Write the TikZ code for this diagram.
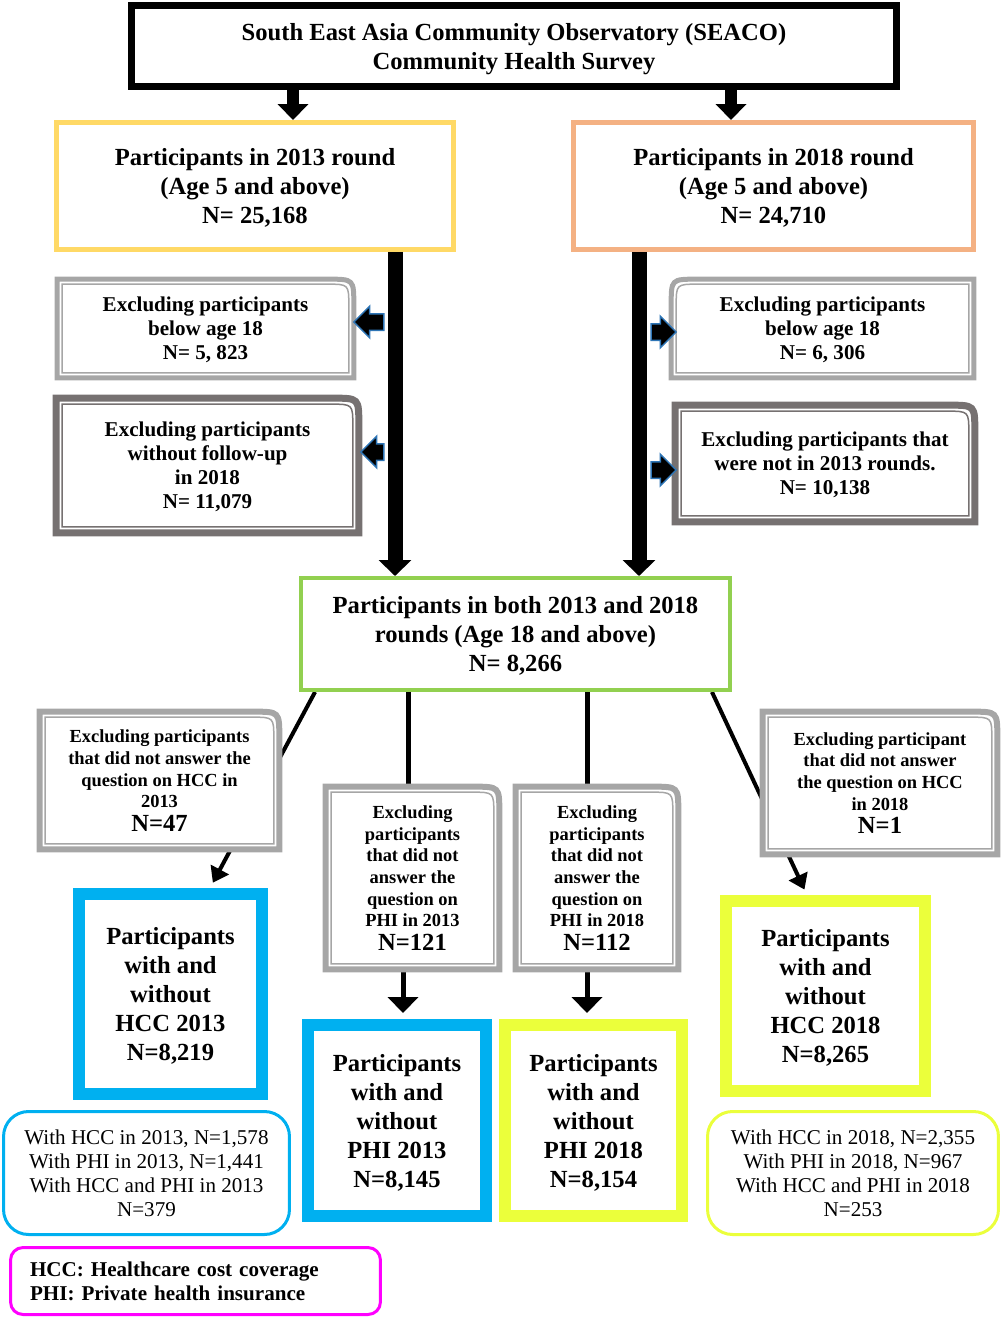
\documentclass[tikz,border=0pt]{standalone}
\usepackage{fontspec}
\setmainfont{Liberation Serif}
\usetikzlibrary{shapes.arrows,arrows.meta,calc,backgrounds}

\definecolor{boxgold}{HTML}{FFD966}
\definecolor{boxorange}{HTML}{F4B183}
\definecolor{lightgrey}{HTML}{A6A6A6}
\definecolor{darkgrey}{HTML}{767171}
\definecolor{boxgreen}{HTML}{92D050}
\definecolor{boxcyan}{HTML}{00B0F0}
\definecolor{boxlime}{HTML}{EBFF3B}
\definecolor{boxpink}{HTML}{FF00FF}
\definecolor{arrowblue}{HTML}{2E75B6}

\newcommand{\nbig}{\fontsize{14}{16}\selectfont}

% double frame, top right corner rounded
\newcommand{\exframeR}[3]{%
  \pgfmathsetmacro{\dA}{#3/2}%
  \pgfmathsetmacro{\dB}{#3+2.5}%
  \draw[#2, line width=#3*0.02cm]
    ($(#1.south west)+(\dA,-\dA)$) -- ($(#1.north west)+(\dA,\dA)$)
    -- ($(#1.north east)+(-\dA-26,\dA)$) .. controls ($(#1.north east)+(-\dA,\dA)$)
    .. ($(#1.north east)+(-\dA,\dA+26)$) -- ($(#1.south east)+(-\dA,-\dA)$) -- cycle;
  \draw[#2, line width=0.03cm]
    ($(#1.south west)+(\dB,-\dB)$) -- ($(#1.north west)+(\dB,\dB)$)
    -- ($(#1.north east)+(-\dB-22,\dB)$) .. controls ($(#1.north east)+(-\dB,\dB)$)
    .. ($(#1.north east)+(-\dB,\dB+22)$) -- ($(#1.south east)+(-\dB,-\dB)$) -- cycle;
}
% double frame, top left corner rounded
\newcommand{\exframeL}[3]{%
  \pgfmathsetmacro{\dA}{#3/2}%
  \pgfmathsetmacro{\dB}{#3+2.5}%
  \draw[#2, line width=#3*0.02cm]
    ($(#1.south east)+(-\dA,-\dA)$) -- ($(#1.north east)+(-\dA,\dA)$)
    -- ($(#1.north west)+(\dA+26,\dA)$) .. controls ($(#1.north west)+(\dA,\dA)$)
    .. ($(#1.north west)+(\dA,\dA+26)$) -- ($(#1.south west)+(\dA,-\dA)$) -- cycle;
  \draw[#2, line width=0.03cm]
    ($(#1.south east)+(-\dB,-\dB)$) -- ($(#1.north east)+(-\dB,\dB)$)
    -- ($(#1.north west)+(\dB+22,\dB)$) .. controls ($(#1.north west)+(\dB,\dB)$)
    .. ($(#1.north west)+(\dB,\dB+22)$) -- ($(#1.south west)+(\dB,-\dB)$) -- cycle;
}

\begin{document}
\begin{tikzpicture}[x=0.02cm, y=-0.02cm,
    every node/.style={align=center, inner sep=0pt},
    bigtext/.style={font=\bfseries\fontsize{14}{16.5}\selectfont, text depth=0pt},
    titlebox/.style={draw=black, line width=0.14cm, bigtext},
    roundbox/.style={draw=#1, line width=0.1cm, bigtext},
    bothbox/.style={draw=#1, line width=0.08cm, bigtext},
    exclbox/.style={fill=white, text depth=0pt, font=\bfseries\fontsize{12}{13.6}\selectfont},
    exclsmall/.style={fill=white, text depth=0pt, font=\bfseries\fontsize{10.5}{12.3}\selectfont},
    resultbox/.style={draw=#1, line width=0.24cm, fill=white, bigtext},
    infobox/.style={draw=#1, line width=0.06cm, rounded corners=0.5cm, fill=white,
      text depth=0pt, font=\fontsize{12}{13.7}\selectfont},
    legendbox/.style={draw=boxpink, line width=0.06cm, rounded corners=0.25cm,
      align=left, text width=6.62cm, inner xsep=0.39cm,
      font=\bfseries\fontsize{12}{13.7}\selectfont},
    toparrow/.style={line width=0.24cm, -{Triangle[width=0.6cm,length=0.32cm]}},
    bigarrow/.style={line width=0.3cm, -{Triangle[width=0.64cm,length=0.32cm]}},
    thinline/.style={line width=0.1cm},
    diagarrow/.style={line width=0.08cm, shorten >=0.12cm, -{Triangle[width=0.4cm,length=0.3cm]}},
    downarrow/.style={line width=0.1cm, shorten >=0.12cm, -{Triangle[width=0.6cm,length=0.32cm]}},
    sidearrow/.style={single arrow, draw=arrowblue, fill=black, line width=0.03cm,
      text height=0.3cm, text depth=0pt, minimum width=0.6cm,
      single arrow head extend=0.15cm, single arrow head indent=0pt}
  ]
  \useasboundingbox (0,0) rectangle (1002,1318);

  % x positions of the connectors
  \coordinate (xa) at (293,0);
  \coordinate (xb) at (731,0);
  \coordinate (xl) at (395,0);
  \coordinate (xr) at (639,0);
  \coordinate (xg) at (408,0);
  \coordinate (xp) at (403,0);
  \coordinate (xh) at (587,0);

  % survey and rounds
  \node[titlebox, minimum width=15.3cm, minimum height=1.62cm] (title) at (514,46)
    {South East Asia Community Observatory (SEACO)\\Community Health Survey};
  \node[roundbox=boxgold, minimum width=7.94cm, minimum height=2.54cm] (r13) at (255,186)
    {Participants in 2013 round\\(Age 5 and above)\\N= 25,168};
  \node[roundbox=boxorange, minimum width=8cm, minimum height=2.54cm] (r18) at (773.5,186)
    {Participants in 2018 round\\(Age 5 and above)\\N= 24,710};

  % exclusions before merging
  \node[exclbox, minimum width=6.02cm, minimum height=2.06cm] (exA) at (205.5,328.5)
    {Excluding participants\\below age 18\\N= 5, 823};
  \node[exclbox, minimum width=6.18cm, minimum height=2.82cm] (exB) at (207.5,465.5)
    {Excluding participants\\without follow-up\\in 2018\\N= 11,079};
  \node[exclbox, minimum width=6.14cm, minimum height=2.06cm] (exC) at (822.5,328.5)
    {Excluding participants\\below age 18\\N= 6, 306};
  \node[exclbox, minimum width=6.12cm, minimum height=2.46cm] (exD) at (825,463.5)
    {Excluding participants that\\were not in 2013 rounds.\\N= 10,138};
  \exframeR{exA}{lightgrey}{5}
  \exframeR{exB}{darkgrey}{7}
  \exframeL{exC}{lightgrey}{5}
  \exframeR{exD}{darkgrey}{7}

  \node[bothbox=boxgreen, minimum width=8.58cm, minimum height=2.24cm] (both) at (515.5,634)
    {Participants in both 2013 and 2018\\rounds (Age 18 and above)\\N= 8,266};

  % exclusions per outcome
  \node[exclsmall, minimum width=4.9cm, minimum height=2.86cm] (exE) at (159.5,780.5)
    {Excluding participants\\that did not answer the\\question on HCC in\\2013\\[1pt]{\nbig N=47}};
  \node[exclsmall, minimum width=4.8cm, minimum height=2.96cm] (exF) at (880,783)
    {Excluding participant\\that did not answer\\the question on HCC\\in 2018\\[1pt]{\nbig N=1}};
  \node[exclsmall, minimum width=3.58cm, minimum height=3.76cm] (exG) at (412.5,878)
    {Excluding\\participants\\that did not\\answer the\\question on\\PHI in 2013\\[1pt]{\nbig N=121}};
  \node[exclsmall, minimum width=3.36cm, minimum height=3.76cm] (exH) at (597,878)
    {Excluding\\participants\\that did not\\answer the\\question on\\PHI in 2018\\[1pt]{\nbig N=112}};
  \exframeR{exE}{lightgrey}{6}
  \exframeR{exF}{lightgrey}{6}
  \exframeR{exG}{lightgrey}{6}
  \exframeR{exH}{lightgrey}{6}

  % final samples
  \node[resultbox=boxcyan, minimum width=3.66cm, minimum height=4cm] (hcc13) at (170.5,994)
    {Participants\\with and\\without\\HCC 2013\\N=8,219};
  \node[resultbox=boxcyan, minimum width=3.56cm, minimum height=3.82cm] (phi13) at (397,1120.5)
    {Participants\\with and\\without\\PHI 2013\\N=8,145};
  \node[resultbox=boxlime, minimum width=3.54cm, minimum height=3.82cm] (phi18) at (593.5,1120.5)
    {Participants\\with and\\without\\PHI 2018\\N=8,154};
  \node[resultbox=boxlime, minimum width=3.98cm, minimum height=3.8cm] (hcc18) at (825.5,996)
    {Participants\\with and\\without\\HCC 2018\\N=8,265};

  \node[infobox=boxcyan, minimum width=5.72cm, minimum height=2.46cm] (info13) at (146.5,1173)
    {With HCC in 2013, N=1,578\\With PHI in 2013, N=1,441\\With HCC and PHI in 2013\\N=379};
  \node[infobox=boxlime, minimum width=5.82cm, minimum height=2.46cm] (info18) at (853,1173)
    {With HCC in 2018, N=2,355\\With PHI in 2018, N=967\\With HCC and PHI in 2018\\N=253};
  \node[legendbox, minimum width=7.4cm, minimum height=1.34cm] (legend) at (195.5,1281)
    {HCC: Healthcare cost coverage\\PHI: Private health insurance};

  % connectors
  \begin{scope}[on background layer]
    \draw[toparrow] (title.south -| xa) -- (r13.north -| xa);
    \draw[toparrow] (title.south -| xb) -- (r18.north -| xb);
    \draw[bigarrow] (r13.south -| xl) -- (both.north -| xl);
    \draw[bigarrow] (r18.south -| xr) -- (both.north -| xr);
    \draw[diagarrow] ($(both.south west)+(16,0)$) -- ([xshift=0.79cm]hcc13.north);
    \draw[diagarrow] ($(both.south east)+(-20,0)$) -- ([xshift=-0.37cm]hcc18.north);
    \draw[thinline] (both.south -| xg) -- (exG.north -| xg);
    \draw[thinline] (both.south -| xh) -- (exH.north -| xh);
    \draw[downarrow] (exG.south -| xp) -- (phi13.north -| xp);
    \draw[downarrow] (exH.south -| xh) -- (phi18.north -| xh);
  \end{scope}

  \node[sidearrow, shape border rotate=180, minimum height=0.6cm] (arA) at (373,322) {};
  \node[sidearrow, shape border rotate=180, minimum height=0.46cm] (arB) at (376.5,452) {};
  \node[sidearrow, minimum height=0.5cm] (arC) at (659.5,332) {};
  \node[sidearrow, minimum height=0.5cm] (arD) at (659.5,470) {};
\end{tikzpicture}
\end{document}
